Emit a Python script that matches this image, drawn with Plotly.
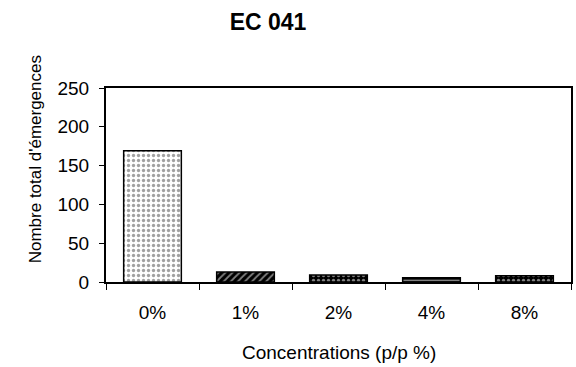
import plotly.graph_objects as go

categories = ["0%", "1%", "2%", "4%", "8%"]
values = [169, 13, 9, 5.5, 8]
y_ticks = [0, 50, 100, 150, 200, 250]

title_text = "EC 041"
x_title = "Concentrations (p/p %)"
y_title = "Nombre total d'émergences"

pattern_shapes = [".", "/", ".", "-", "."]
pattern_bg = ["white", "black", "black", "black", "black"]
pattern_fg = ["black", "white", "white", "white", "white"]

fig = go.Figure()
fig.add_trace(go.Bar(
    x=categories,
    y=values,
    width=0.62,
    marker=dict(
        color=pattern_bg,
        line=dict(color="black", width=1.5),
        pattern=dict(shape=pattern_shapes, bgcolor=pattern_bg,
                     fgcolor=pattern_fg, size=5, solidity=0.35),
    ),
))

font_family = "Liberation Sans, Arial, sans-serif"
PL, PT, PW, PH = 106, 88, 467, 194
fig.update_layout(
    width=576, height=367,
    margin=dict(l=PL, r=576 - PL - PW, t=PT, b=367 - PT - PH),
    paper_bgcolor="white", plot_bgcolor="white",
    showlegend=False,
    font=dict(family=font_family, size=19, color="black"),
    title=dict(text="<b>" + title_text + "</b>", x=268 / 576, xanchor="center",
               xref="container", y=1 - 22 / 367, yanchor="middle", yref="container",
               font=dict(size=23, family=font_family)),
)
fig.update_xaxes(
    showline=True, linecolor="black", linewidth=2, mirror=True,
    ticks="outside", ticklen=6, tickcolor="black", tickwidth=1,
    tickson="boundaries", showgrid=False,
    tickfont=dict(size=19), ticklabelstandoff=12,
)
fig.update_yaxes(
    range=[0, 250], tickvals=y_ticks,
    showline=True, linecolor="black", linewidth=2, mirror=True,
    ticks="outside", ticklen=5, tickcolor="black", tickwidth=1,
    showgrid=False, zeroline=False,
    tickfont=dict(size=19), ticklabelstandoff=6,
)
fig.add_annotation(
    text=y_title, textangle=-90, xref="paper", yref="paper",
    x=-(PL - 35) / PW, y=(PT + PH - 159) / PH, xanchor="center", yanchor="middle",
    showarrow=False, font=dict(size=17, family=font_family),
)
fig.add_annotation(
    text=x_title, xref="paper", yref="paper",
    x=(340 - PL) / PW, y=(PT + PH - 352) / PH, xanchor="center", yanchor="middle",
    showarrow=False, font=dict(size=19, family=font_family),
)

fig.write_html("out.html")
